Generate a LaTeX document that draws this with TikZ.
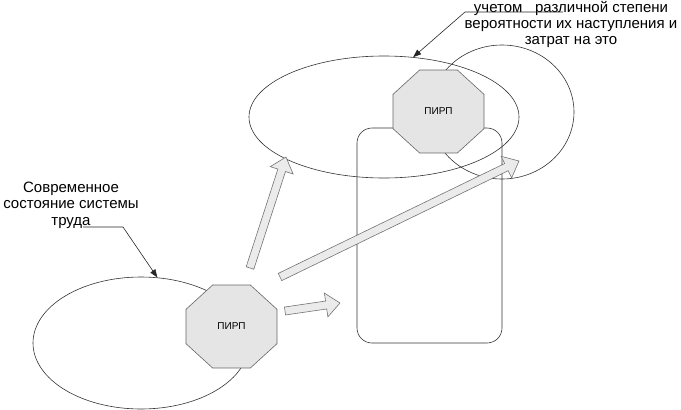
\documentclass[tikz,border=0pt]{standalone}
\usepackage{fontspec}
\setmainfont{Liberation Sans}
\usetikzlibrary{shapes.geometric,arrows.meta,calc}
\tikzset{
 ln/.style={draw=black!80, line width=0.6pt},
 ell/.style={ln, ellipse, inner sep=0pt},
 oct/.style={regular polygon, regular polygon sides=8, minimum size=98.5pt, inner sep=0pt, draw=black!60, fill=black!10, line width=0.6pt},
 octtext/.style={font=\fontsize{10}{12}\selectfont, inner sep=0pt},
 barrow/.style={draw=black!55, fill=black!8, line width=0.6pt, line join=miter},
 lbl/.style={align=center, inner sep=0pt},
 leader/.style={draw=black!85, line width=0.6pt, -{Triangle[length=8pt,width=6pt]}},
}
\newcommand\blockarrow[2]{%
  \coordinate (hb) at ($(#2)!14pt!(#1)$);
  \path[barrow] ($(#1)!4pt!90:(#2)$) -- ($(hb)!4pt!90:(#2)$) -- ($(hb)!12pt!90:(#2)$) -- (#2) -- ($(hb)!12pt!-90:(#2)$) -- ($(hb)!4pt!-90:(#2)$) -- ($(#1)!4pt!-90:(#2)$) -- cycle;}
\begin{document}
\begin{tikzpicture}[x=1pt,y=-1pt]
\useasboundingbox (0,0) rectangle (681,410);
% ellipses and frame
\node[ell, minimum width=216pt, minimum height=132pt] (E0) at (141,343) {};
\node[ell, minimum width=270pt, minimum height=122pt] (E1) at (384,117) {};
\node[ell, minimum width=144pt, minimum height=134pt] (E2) at (502,112) {};
\node[ln, rectangle, rounded corners=15pt, minimum width=145pt, minimum height=215pt, inner sep=0pt] (R) at (429.5,235.5) {};
% octagons
\begin{scope}[shift={(231.5,326.5)}, yscale=0.912, transform shape]
  \node[oct] (O1) at (0,0) {};
\end{scope}
\begin{scope}[shift={(438.5,111.5)}, yscale=0.912, transform shape]
  \node[oct] (O2) at (0,0) {};
\end{scope}
\node[octtext] (L1) at (O1) {ПИРП};
\node[octtext] (L2) at (O2) {ПИРП};
% texts
\node[lbl, font=\fontsize{15}{16}\selectfont] (T1) at (571,24) {учетом\ \ \ различной степени\\вероятности их наступления и\\затрат на это};
\node[lbl, font=\fontsize{15}{16.5}\selectfont] (T2) at (71,205) {Современное\\состояние системы\\труда};
% leaders
\coordinate (t1) at (563,12); \coordinate (t2) at (465,12);
\draw[leader] (t1) -- (t2) -- (E1.64);
\coordinate (s1) at (83,227); \coordinate (s2) at (123,227);
\draw[leader] (s1) -- (s2) -- (E0.76);
% block arrows
\coordinate (a1s) at (250,268); \coordinate (a1e) at (286,157);
\coordinate (a2s) at (280,277); \coordinate (a2e) at (519,161);
\coordinate (a3s) at (285,311); \coordinate (a3e) at (340,303);
\blockarrow{a1s}{a1e}
\blockarrow{a2s}{a2e}
\blockarrow{a3s}{a3e}
\end{tikzpicture}
\end{document}
